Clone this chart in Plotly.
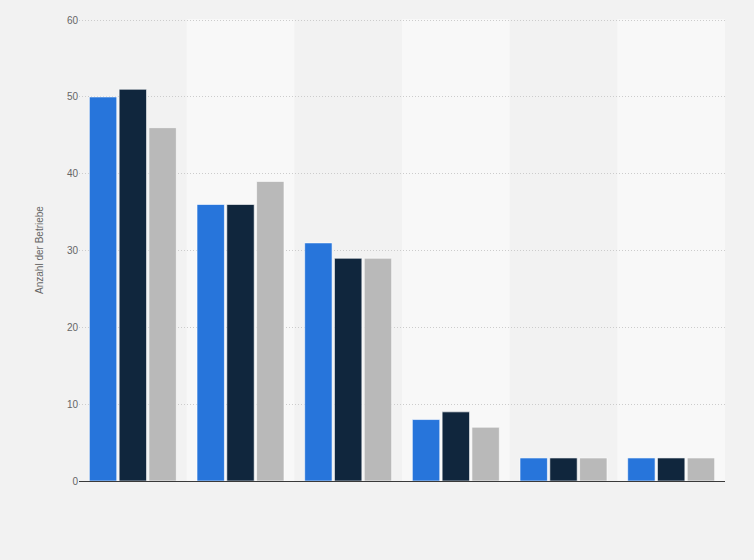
import plotly.graph_objects as go

# --- Daten ---
kategorien = ["K1", "K2", "K3", "K4", "K5", "K6"]
serie_a = [50, 36, 31, 8, 3, 3]
serie_b = [51, 36, 29, 9, 3, 3]
serie_c = [46, 39, 29, 7, 3, 3]
y_ticks = [0, 10, 20, 30, 40, 50, 60]

farben = ["#2775db", "#10263d", "#b9b9b9"]
namen = ["Serie A", "Serie B", "Serie C"]

fig = go.Figure()
for name, werte, farbe in zip(namen, [serie_a, serie_b, serie_c], farben):
    fig.add_trace(go.Bar(
        x=kategorien, y=werte, name=name,
        marker=dict(color=farbe, line=dict(color="rgba(255,255,255,0.6)", width=1)),
        hoverinfo="y",
    ))

# abwechselnde Hintergrundstreifen
for i, _ in enumerate(kategorien):
    if i % 2 == 1:
        fig.add_shape(type="rect", xref="x", yref="paper",
                      x0=i - 0.5, x1=i + 0.5, y0=0, y1=1,
                      fillcolor="#f8f8f8", line=dict(width=0), layer="below")

fig.update_layout(
    width=754, height=560,
    paper_bgcolor="#f2f2f2", plot_bgcolor="#f2f2f2",
    margin=dict(l=79, r=29, t=19, b=79),
    barmode="group", bargap=0.17, bargroupgap=0.08,
    showlegend=False,
    font=dict(family="Liberation Sans, Arial, sans-serif", size=10, color="#666666"),
)
fig.update_xaxes(showticklabels=False, showgrid=False, ticks="",
                 showline=True, linecolor="#3a3a3a", linewidth=1,
                 range=[-0.5, len(kategorien) - 0.5])
fig.update_yaxes(range=[0, 60.15], tickvals=y_ticks, showgrid=True,
                 gridcolor="#cccccc", griddash="1px,2px", gridwidth=1,
                 zeroline=False, ticks="", ticklen=0,
                 title=dict(text="Anzahl der Betriebe", font=dict(size=10, color="#666666"), standoff=21),
                 tickfont=dict(size=10, color="#666666"))

fig.write_html("out.html", config={"displayModeBar": False},
               post_script="document.body.style.margin='0';")
